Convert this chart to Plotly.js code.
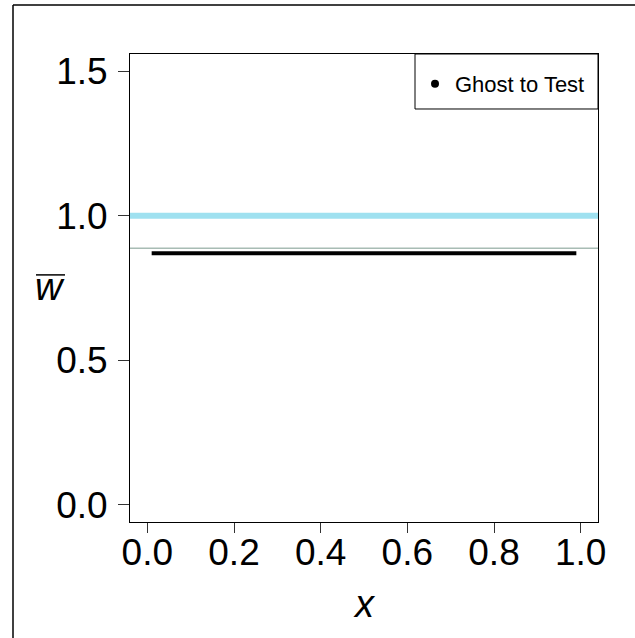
<!DOCTYPE html>
<html>
<head>
<meta charset="utf-8">
<script src="https://cdn.plot.ly/plotly-3.0.1.min.js"></script>
<style>
  html, body { margin: 0; padding: 0; background: #ffffff; }
  #chart { width: 635px; height: 638px; }
</style>
</head>
<body>
<div id="chart"></div>
<script>
// Mean fitness of the "Ghost to Test" run across the x grid
const xValues = [0.01, 0.1, 0.2, 0.3, 0.4, 0.5, 0.6, 0.7, 0.8, 0.9, 0.99];
const wBar    = [0.87, 0.87, 0.87, 0.87, 0.87, 0.87, 0.87, 0.87, 0.87, 0.87, 0.87];
const seriesName = "Ghost to Test";

// Reference levels drawn across the whole panel
const unitLevel = 1.0;
const lowerLevel = 0.888;

const xTicks = [0, 0.2, 0.4, 0.6, 0.8, 1.0];
const xTickText = ["0.0", "0.2", "0.4", "0.6", "0.8", "1.0"];
const yTicks = [0, 0.5, 1.0, 1.5];
const yTickText = ["0.0", "0.5", "1.0", "1.5"];

const xRange = [-0.04, 1.04];
const yRange = [-0.06, 1.56];

const font = "Liberation Sans, Arial, Helvetica, sans-serif";

const traces = [
  {
    x: [xRange[0], xRange[1]],
    y: [unitLevel, unitLevel],
    mode: "lines",
    line: { color: "#9fe1f0", width: 6 },
    hoverinfo: "skip",
    showlegend: false
  },
  {
    x: [xRange[0], xRange[1]],
    y: [lowerLevel, lowerLevel],
    mode: "lines",
    line: { color: "#a8bcb4", width: 1.5 },
    hoverinfo: "skip",
    showlegend: false
  },
  {
    x: xValues,
    y: wBar,
    mode: "lines",
    line: { color: "#000000", width: 4 },
    name: seriesName,
    showlegend: false
  },
  {
    // legend key: a single dot
    x: [null],
    y: [null],
    mode: "markers",
    marker: { color: "#000000", size: 8 },
    name: seriesName,
    showlegend: true
  }
];

const layout = {
  width: 635,
  height: 638,
  margin: { l: 130, r: 37, t: 54, b: 116 },
  paper_bgcolor: "#ffffff",
  plot_bgcolor: "#ffffff",
  font: { family: font, color: "#000000" },
  showlegend: true,
  legend: {
    x: 0.609, y: 0.936, xanchor: "left", yanchor: "middle",
    borderwidth: 0,
    bgcolor: "rgba(0,0,0,0)",
    font: { family: font, size: 22, color: "#000000" }
  },
  xaxis: {
    range: xRange,
    tickvals: xTicks,
    ticktext: xTickText,
    ticks: "outside",
    ticklen: 10,
    tickwidth: 1,
    tickcolor: "#333333",
    tickfont: { family: font, size: 37, color: "#000000" },
    ticklabelstandoff: -12,
    showgrid: false,
    zeroline: false,
    showline: true,
    linecolor: "#000000",
    linewidth: 1,
    mirror: true
  },
  yaxis: {
    range: yRange,
    tickvals: yTicks,
    ticktext: yTickText,
    ticks: "outside",
    ticklen: 11,
    tickwidth: 1,
    tickcolor: "#333333",
    tickfont: { family: font, size: 37, color: "#000000" },
    ticklabelstandoff: 3,
    showgrid: false,
    zeroline: false,
    showline: true,
    linecolor: "#000000",
    linewidth: 1,
    mirror: true
  },
  annotations: [
    {
      text: "<i>x</i>",
      xref: "paper", yref: "paper",
      x: 0.5, y: -0.175,
      xanchor: "center", yanchor: "middle",
      showarrow: false,
      font: { family: font, size: 38, color: "#000000" }
    },
    {
      text: "<i>w</i>",
      xref: "paper", yref: "paper",
      x: -0.172, y: 0.503,
      xanchor: "center", yanchor: "middle",
      showarrow: false,
      font: { family: font, size: 38, color: "#000000" }
    }
  ],
  shapes: [
    // bar over the w
    { type: "line", xref: "paper", yref: "paper",
      x0: -0.2009, x1: -0.1389, y0: 0.528, y1: 0.528,
      line: { color: "#000000", width: 1.5 } },
    // legend frame
    { type: "rect", xref: "paper", yref: "paper",
      x0: 0.609, x1: 1, y0: 0.8825, y1: 1,
      line: { color: "#000000", width: 1 }, fillcolor: "rgba(0,0,0,0)" },
    // figure frame (top and left edges)
    { type: "line", xref: "paper", yref: "paper",
      x0: -0.25, x1: 1.08, y0: 1.1047, y1: 1.1047,
      line: { color: "#000000", width: 1.5 } },
    { type: "line", xref: "paper", yref: "paper",
      x0: -0.25, x1: -0.25, y0: 1.1047, y1: -0.25,
      line: { color: "#000000", width: 1.5 } }
  ]
};

Plotly.newPlot("chart", traces, layout, { displayModeBar: false, staticPlot: true });
</script>
</body>
</html>
